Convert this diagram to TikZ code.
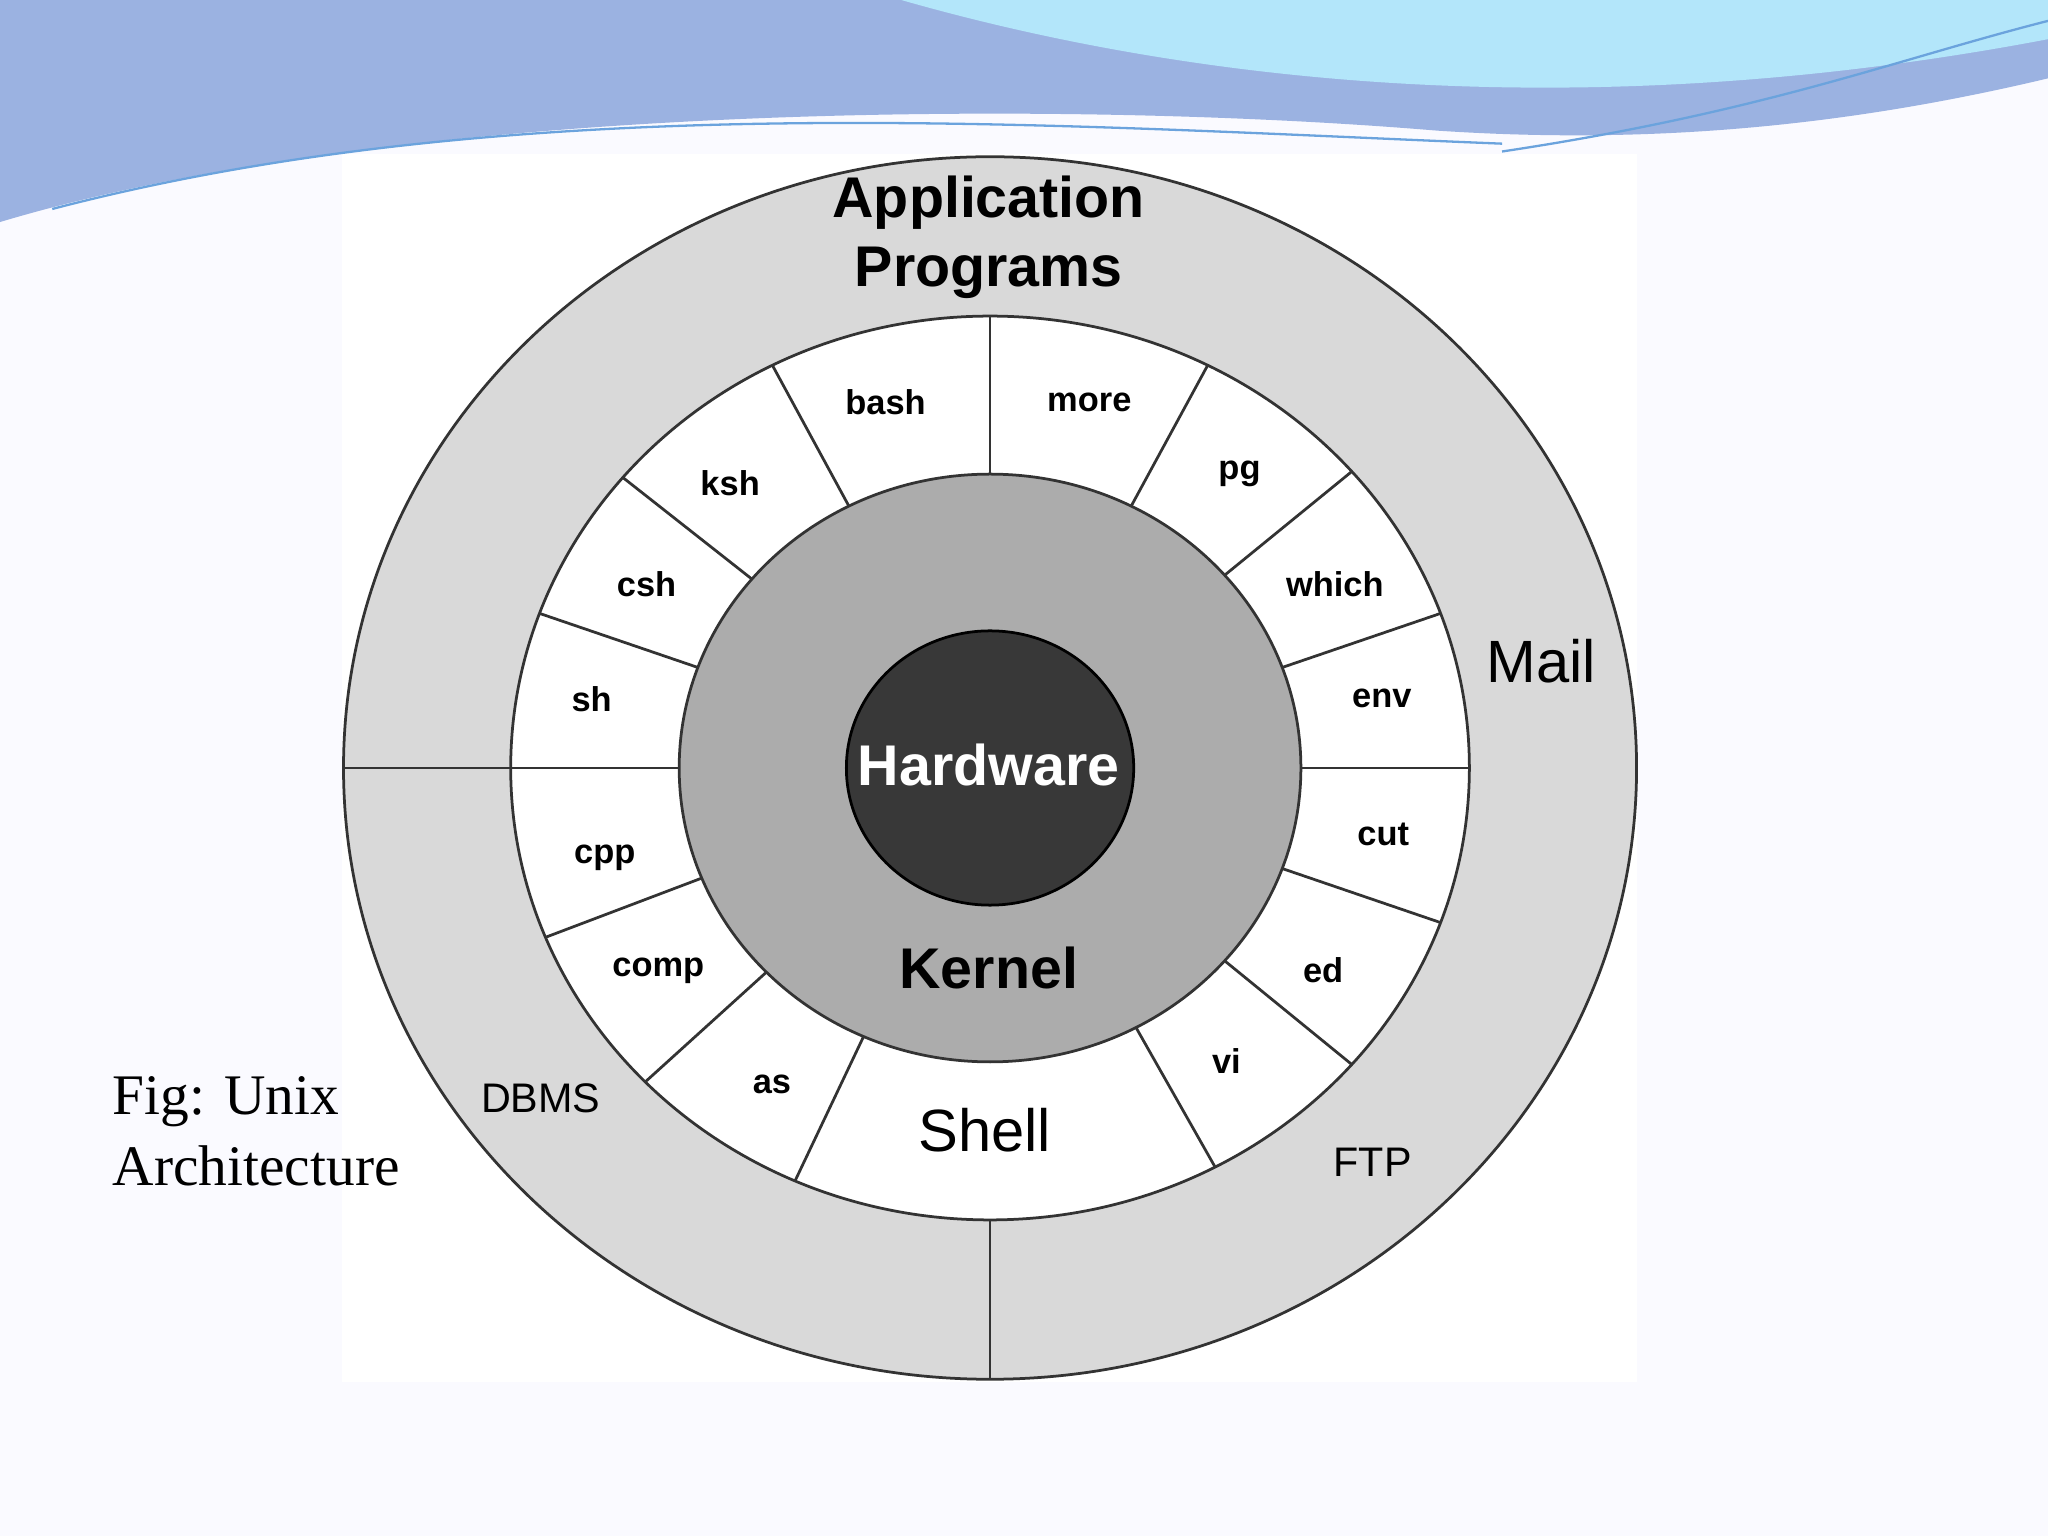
\documentclass[tikz,border=0pt]{standalone}
\usepackage{fontspec}
\usetikzlibrary{calc}
\setmainfont{Liberation Sans}
\newfontfamily\capfont{Liberation Serif}
\begin{document}
\begin{tikzpicture}[x=0.1mm,y=0.1mm,
  sm/.style={font=\fontsize{7.5}{9}\selectfont\bfseries},
  big/.style={font=\fontsize{12.5}{15}\selectfont\bfseries},
  reg/.style={font=\fontsize{13}{15}\selectfont},
  mid/.style={font=\fontsize{9}{11}\selectfont},
  ln/.style={draw=black!80,line width=0.6pt}]
\useasboundingbox (0,0) rectangle (1568,1176);
\fill[blue!2!white] (0,0) rectangle (1568,1176);
\fill[white] (262,118) rectangle (1253,1058);
% top wave
\fill[cyan!45!blue!40] (0,1176) -- (1568,1176) -- (1568,1116) .. controls (1400,1076) and (1250,1066) .. (1100,1076) .. controls (800,1101) and (300,1096) .. (0,1006) -- cycle;
\fill[cyan!30!white] (690,1176) .. controls (900,1116) and (1200,1076) .. (1568,1146) -- (1568,1176) -- cycle;
\draw[cyan!60!blue!60,line width=0.5pt] (40,1016) .. controls (400,1110) and (800,1080) .. (1150,1066);
\draw[cyan!60!blue!60,line width=0.5pt] (1150,1060) .. controls (1350,1090) and (1450,1130) .. (1568,1160);
% rings
\coordinate (c) at (758,588);
\fill[gray!30,draw=black!80,line width=0.6pt] (c) ellipse [x radius=495,y radius=468];
\fill[white,draw=black!80,line width=0.6pt] (c) ellipse [x radius=367,y radius=346];
\draw[ln] (263,588) -- (391,588);
\draw[ln] (758,120) -- (758,242);
% shell segments
\foreach \a in {90,117,140,160,180,202,224,246,63,41,20,0,-20,-41,-62}
  \draw[ln] ($(c)+(\a:238 and 225)$) -- ($(c)+(\a:367 and 346)$);
\fill[gray!65,draw=black!80,line width=0.6pt] (c) ellipse [x radius=238,y radius=225];
\fill[black!78,draw=black,line width=0.6pt] (c) ellipse [x radius=110,y radius=105];
% labels
\node[big,white] (hw) at (757,590) {Hardware};
\node[big] (kn) at (757,435) {Kernel};
\node[big,align=center] (ap) at (757,994) {Application\\Programs};
\node[reg] (sh1) at (754,311) {Shell};
\node[reg] (mail) at (1180,670) {Mail};
\node[mid] (ftp) at (1051,286) {FTP};
\node[mid] (dbms) at (414,335) {DBMS};
\node[sm] (bash) at (678,868) {bash};
\node[sm] (more) at (834,868) {more};
\node[sm] (ksh) at (559,806) {ksh};
\node[sm] (pg) at (949,813) {pg};
\node[sm] (csh) at (495,729) {csh};
\node[sm] (which) at (1022,729) {which};
\node[sm] (shh) at (453,641) {sh};
\node[sm] (env) at (1058,641) {env};
\node[sm] (cpp) at (463,519) {cpp};
\node[sm] (cut) at (1059,537) {cut};
\node[sm] (comp) at (504,433) {comp};
\node[sm] (ed) at (1013,433) {ed};
\node[sm] (as) at (591,346) {as};
\node[sm] (vi) at (939,364) {vi};
\node[anchor=west,align=left,font=\capfont\fontsize{12.5}{15.5}\selectfont] (fig) at (74,310) {Fig: Unix\\Architecture};
\end{tikzpicture}
\end{document}
